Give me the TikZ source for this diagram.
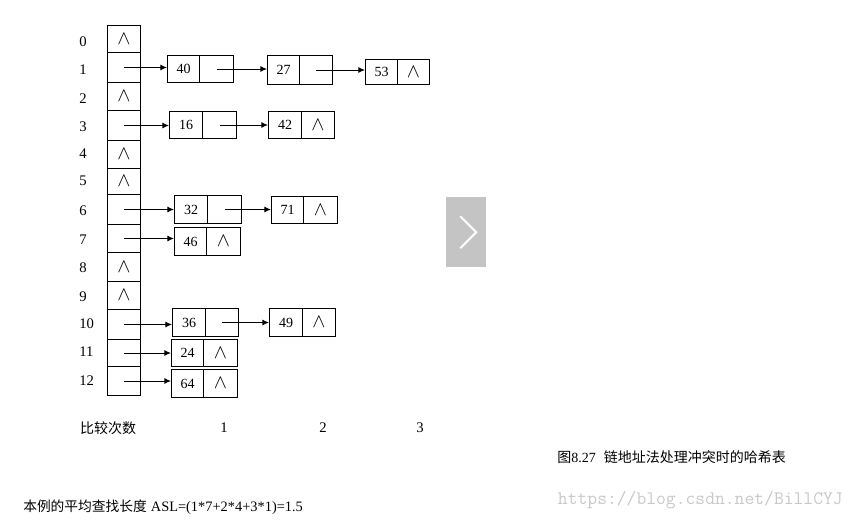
\documentclass[tikz,border=0pt]{standalone}
\usepackage{fontspec}
\setmainfont{Liberation Serif}
\newfontfamily\cjk{Noto Sans CJK SC}
\usetikzlibrary{arrows.meta}
\definecolor{navgray}{HTML}{C4C4C4}
\definecolor{wmgray}{HTML}{C8C8C8}
\newcommand\nilp{\scalebox{1.35}{$\wedge$}}
\newcommand\tcell[4]{% name, y1, y2, content
  \node[cellst, minimum height={(#3-#2)*0.75pt}] (#1) at (107,#2) {#4};}
\newcommand\lnode[8]{% name x1 xd x2 y1 y2 value ptr
  \node[fld, minimum width={(#3-#2)*0.75pt}, minimum height={(#6-#5)*0.75pt}] (d#1) at (#2,#5) {#7};
  \node[fld, minimum width={(#4-#3)*0.75pt}, minimum height={(#6-#5)*0.75pt}] (p#1) at (#3,#5) {#8};}
\begin{document}
\begin{tikzpicture}[x=0.75pt,y=-0.75pt,
  txt/.style={font=\fontsize{11}{12}\selectfont, inner sep=0pt},
  cellst/.style={draw, line width=0.75pt, anchor=north west, inner sep=0pt,
    minimum width={33*0.75pt}, font=\fontsize{10.5}{12}\selectfont},
  fld/.style={draw, line width=0.75pt, anchor=north west, inner sep=0pt,
    font=\fontsize{10.5}{12}\selectfont},
  lab/.style={txt, anchor=west},
  arr/.style={line width=0.75pt, -{Latex[length=5pt,width=4.5pt]}},
  cjkst/.style={font=\cjk\fontsize{10.5}{12}\selectfont, inner sep=0pt}]
\useasboundingbox (0,0) rectangle (852,521);
% hash table
\tcell{c0}{25}{52}{\nilp}
\tcell{c1}{52}{82}{}
\tcell{c2}{82}{110}{\nilp}
\tcell{c3}{110}{140}{}
\tcell{c4}{140}{168}{\nilp}
\tcell{c5}{168}{194}{\nilp}
\tcell{c6}{194}{224}{}
\tcell{c7}{224}{252}{}
\tcell{c8}{252}{281}{\nilp}
\tcell{c9}{281}{309}{\nilp}
\tcell{c10}{309}{339}{}
\tcell{c11}{339}{366}{}
\tcell{c12}{366}{395}{}
% row labels
\node[lab] (l0) at (79,42) {0};
\node[lab] (l1) at (79,70) {1};
\node[lab] (l2) at (79,99) {2};
\node[lab] (l3) at (79,127) {3};
\node[lab] (l4) at (79,154) {4};
\node[lab] (l5) at (79,181) {5};
\node[lab] (l6) at (79,211) {6};
\node[lab] (l7) at (79,240) {7};
\node[lab] (l8) at (79,268) {8};
\node[lab] (l9) at (79,297) {9};
\node[lab] (l10) at (79,324) {10};
\node[lab] (l11) at (79,352) {11};
\node[lab] (l12) at (79,381) {12};
% list nodes
\lnode{40}{167}{199}{233}{55}{82}{40}{}
\lnode{27}{267}{299}{332}{55}{84}{27}{}
\lnode{53}{365}{397}{429}{59}{84}{53}{\nilp}
\lnode{16}{169}{202}{236}{111}{138}{16}{}
\lnode{42}{268}{301}{334}{111}{138}{42}{\nilp}
\lnode{32}{174}{207}{241}{195}{223}{32}{}
\lnode{71}{271}{303}{337}{196}{223}{71}{\nilp}
\lnode{46}{174}{206}{240}{227}{255}{46}{\nilp}
\lnode{36}{172}{205}{238}{308}{336}{36}{}
\lnode{49}{269}{302}{335}{308}{336}{49}{\nilp}
\lnode{24}{171}{203}{237}{339}{366}{24}{\nilp}
\lnode{64}{171}{203}{237}{369}{397}{64}{\nilp}
% arrows
\draw[arr] (c1.center) -- (c1.center -| d40.west);
\draw[arr] (p40.center) -- (p40.center -| d27.west);
\draw[arr] (p27.center) -- (p27.center -| d53.west);
\draw[arr] (c3.center) -- (c3.center -| d16.west);
\draw[arr] (p16.center) -- (p16.center -| d42.west);
\draw[arr] (c6.center) -- (c6.center -| d32.west);
\draw[arr] (p32.center) -- (p32.center -| d71.west);
\draw[arr] (c7.center) -- (c7.center -| d46.west);
\draw[arr] (c10.center) -- (c10.center -| d36.west);
\draw[arr] (p36.center) -- (p36.center -| d49.west);
\draw[arr] (c11.center) -- (c11.center -| d24.west);
\draw[arr] (c12.center) -- (c12.center -| d64.west);
% comparison counts
\node[cjkst] (cmp) at (108,428) {比较次数};
\node[txt] (n1) at (224,428) {1};
\node[txt] (n2) at (323,428) {2};
\node[txt] (n3) at (420,428) {3};
% ASL
\node[anchor=west, inner sep=0pt] (asl) at (23,507)
  {{\cjk\fontsize{10.3}{12}\selectfont 本例的平均查找长度}\hspace{3pt}{\fontsize{10.8}{12}\selectfont ASL=(1*7+2*4+3*1)=1.5}};
% caption
\node[anchor=west, inner sep=0pt] (cap) at (557,457)
  {{\cjk\fontsize{10.5}{12}\selectfont 图}{\fontsize{10.5}{12}\selectfont 8.27}\hspace{6pt}{\cjk\fontsize{10.5}{12}\selectfont 链地址法处理冲突时的哈希表}};
% navigation box
\node[fill=navgray, minimum width={40*0.75pt}, minimum height={70*0.75pt}, inner sep=0pt, anchor=north west] (nav) at (446,197) {};
\draw[white, line width=1.4pt] ([shift={(-4.5pt,-12pt)}]nav.center) -- ([shift={(7.5pt,0pt)}]nav.center) -- ([shift={(-4.5pt,12pt)}]nav.center);
% watermark
\node[anchor=east, inner sep=0pt, text=wmgray, font=\ttfamily\fontsize{14.3}{16}\selectfont] (wm) at (843,500) {https://blog.csdn.net/BillCYJ};
\end{tikzpicture}
\end{document}
